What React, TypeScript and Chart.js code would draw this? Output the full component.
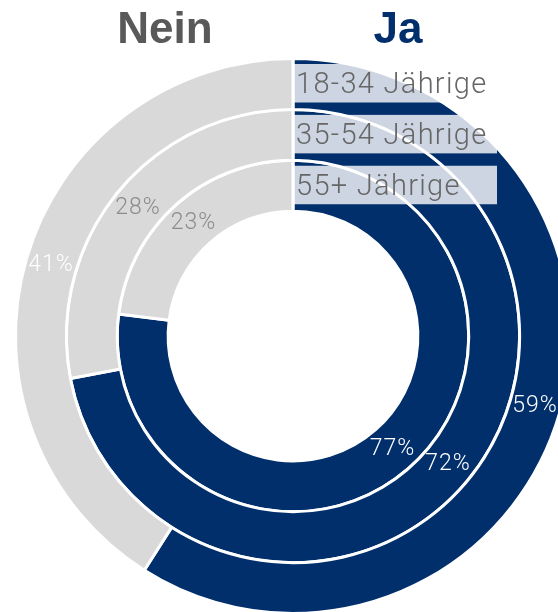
import React, { useEffect, useRef } from 'react';
import { Chart, registerables } from 'chart.js';

Chart.register(...registerables);

// ---- data ----
const groups = ['18-34 Jährige', '35-54 Jährige', '55+ Jährige'];
const answers = ['Ja', 'Nein'];
const jaValues = [59, 72, 77];
const neinValues = [41, 28, 23];

// ---- style ----
const NAVY = '#002f6c';
const GRAY = '#d9d9d9';
const TITLE_GRAY = '#595959';
const LIGHT_FONT = 'Roboto, "Helvetica Neue", "Liberation Sans", sans-serif';
const BOLD_FONT = '"Liberation Sans", Arial, Helvetica, sans-serif';

const labelPlugin = {
  id: 'ringLabels',
  afterDatasetsDraw(chart: any) {
    const ctx = chart.ctx as any;
    ctx.save();
    chart.data.datasets.forEach((ds: any, i: number) => {
      const meta = chart.getDatasetMeta(i);
      // percentage labels
      meta.data.forEach((arc: any, j: number) => {
        const p = arc.getCenterPoint();
        const v = ds.data[j];
        ctx.font = `300 23px ${LIGHT_FONT}`;
        ctx.letterSpacing = '1px';
        ctx.textAlign = 'center';
        ctx.textBaseline = 'middle';
        ctx.fillStyle = ds.labelColors[j];
        ctx.fillText(`${v}%`, p.x, p.y);
      });
      // group label box at the start of each ring
      const a0 = meta.data[0];
      const top = a0.y - a0.outerRadius;
      const x = a0.x;
      ctx.fillStyle = 'rgba(255,255,255,0.8)';
      ctx.fillRect(x, top + 5.5, 204, 38.5);
      ctx.font = `300 29px ${LIGHT_FONT}`;
      ctx.letterSpacing = '1.3px';
      ctx.textAlign = 'left';
      ctx.textBaseline = 'alphabetic';
      ctx.fillStyle = '#666666';
      ctx.fillText(ds.label, x + 3, top + 34.5);
    });
    // titles
    const m0 = chart.getDatasetMeta(0).data[0];
    const cx = m0.x;
    ctx.letterSpacing = '0px';
    ctx.font = `bold 44px ${BOLD_FONT}`;
    ctx.textAlign = 'center';
    ctx.textBaseline = 'alphabetic';
    ctx.fillStyle = TITLE_GRAY;
    ctx.fillText(answers[1], cx - 128, 43);
    ctx.fillStyle = NAVY;
    ctx.fillText(answers[0], cx + 105, 43);
    ctx.restore();
  },
};

export default function App() {
  const ref = useRef<HTMLCanvasElement | null>(null);
  useEffect(() => {
    if (!ref.current) return;
    const chart = new Chart(ref.current, {
      type: 'doughnut',
      data: {
        labels: answers,
        datasets: groups.map((g, i) => ({
          label: g,
          data: [jaValues[i], neinValues[i]],
          backgroundColor: [NAVY, GRAY],
          borderColor: '#ffffff',
          borderWidth: 3,
          hoverOffset: 0,
          labelColors: ['#ffffff', i === 0 ? '#ffffff' : '#8c8c8c'],
        })) as any,
      },
      options: {
        responsive: false,
        animation: false,
        radius: 277.5,
        cutout: '45%',
        rotation: 0,
        layout: { padding: 0 },
        plugins: {
          legend: { display: false },
          tooltip: { enabled: false },
        },
      } as any,
      plugins: [labelPlugin],
    });
    return () => chart.destroy();
  }, []);

  return (
    <div
      style={{
        position: 'fixed',
        left: 0,
        top: 0,
        width: 558,
        height: 612,
        overflow: 'hidden',
        background: '#ffffff',
      }}
    >
      <canvas
        ref={ref}
        width={586}
        height={672}
        style={{ position: 'absolute', left: 0, top: 0, width: 586, height: 672 }}
      />
    </div>
  );
}
